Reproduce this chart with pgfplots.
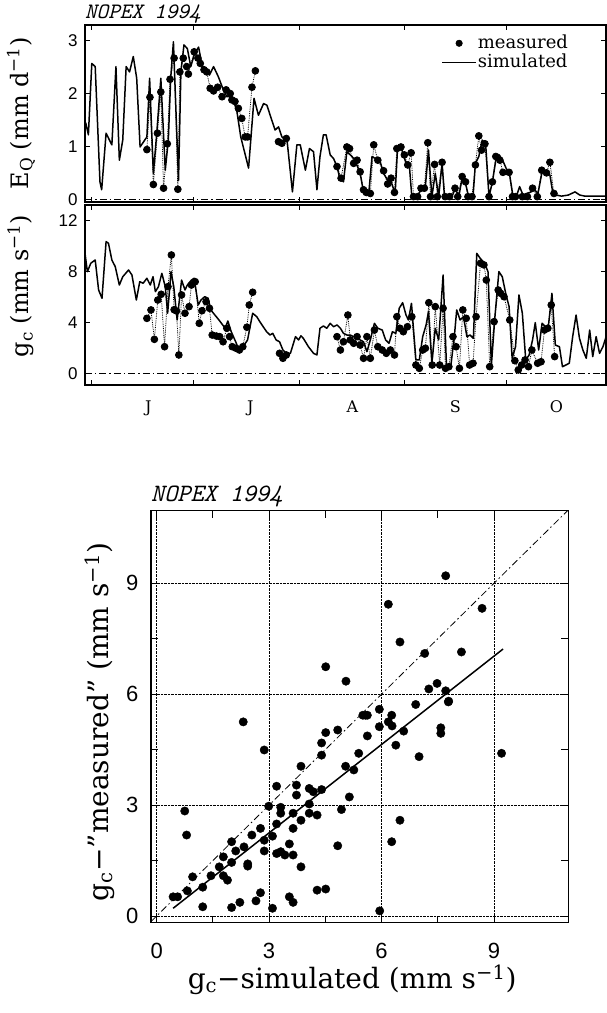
\documentclass[border=0pt]{standalone}
\usepackage{fontspec}
\setmainfont{DejaVu Serif}
\newfontfamily\tickfont{Liberation Sans}
\newfontfamily\titlefont{Latin Modern Mono}
\usepackage{pgfplots}
\pgfplotsset{compat=1.18}
\pgfplotsset{
 ts/.style={scale only axis, width=521pt, xmin=150, xmax=303.2,
  xtick={152,182,213,244,274}, xticklabels={},
  tick align=inside, xtick pos=both, ytick pos=both,
  major tick length=5pt, tick style={line width=0.9pt,black},
  axis line style={line width=1.3pt},
  yticklabel style={font=\tickfont\fontsize{17}{17}\selectfont, xshift=-4pt},
  /pgf/number format/assume math mode=true,
  unbounded coords=jump, clip mode=individual},
 sim/.style={black, line width=1.5pt, no marks, line join=round, forget plot},
 meas/.style={black, densely dotted, line width=0.8pt, mark=*, mark size=3.4pt, mark options={solid}, forget plot},
 zero/.style={black, line width=0.8pt, dash pattern=on 7pt off 3pt on 1.5pt off 3pt, no marks, forget plot},
}
\begin{document}
\begin{tikzpicture}
\path[use as bounding box] (0pt,0pt) rectangle (607pt,1013pt);
% ---------------- Top panel: E_Q ----------------
\begin{axis}[ts, at={(85pt,811pt)}, anchor=south west, height=177pt,
  ymin=-0.051, ymax=3.297, ytick={0,1,2,3},
  ylabel={E\textsubscript{Q} (mm d\textsuperscript{−1})},
  ylabel style={at={(axis description cs:-0.123,0.5)}, anchor=center, font=\fontsize{24}{24}\selectfont},
  legend style={at={(rel axis cs:0.935,0.96)}, anchor=north east, draw=none, fill=none,
    font=\fontsize{18}{18}\selectfont, row sep=1pt,
    nodes={inner sep=1pt, text height=13pt, text depth=3pt}},
  legend cell align=left]
\addlegendimage{legend image code/.code={\fill (17pt,0pt) circle (3.3pt);}}
\addlegendentry{measured}
\addlegendimage{legend image code/.code={\draw[line width=1.5pt] (0pt,0pt)--(34pt,0pt);}}
\addlegendentry{simulated}
\addplot[zero] coordinates {(150,0) (303.2,0)};
\addplot[sim] table {
150.2 1.45
151.0 1.22
152.0 2.57
153.0 2.51
154.4 0.33
154.9 0.18
156.2 1.25
157.9 1.03
159.1 2.51
160.1 0.74
161.1 1.12
162.1 2.51
163.1 2.41
164.2 2.70
165.2 2.29
166.2 0.99
168.2 1.18
169.0 2.29
170.1 0.49
171.1 1.25
172.3 2.29
173.6 0.55
174.5 1.12
175.2 2.29
176.0 2.98
177.5 0.36
178.2 2.41
179.1 2.92
180.1 2.85
181.1 2.51
182.1 2.73
183.4 2.88
184.4 2.54
185.3 2.44
186.6 2.35
187.8 2.51
189.2 2.32
190.5 2.10
191.7 1.94
193.2 1.94
194.6 1.69
195.8 1.18
198.1 0.59
199.7 1.91
201.0 1.59
202.5 1.81
203.5 1.78
204.9 1.50
205.9 1.31
206.9 1.37
207.9 1.18
209.4 1.12
211.0 0.14
212.3 1.03
213.3 1.03
214.8 0.55
216.0 0.96
217.2 0.90
218.2 0.18
219.1 0.81
220.1 1.22
220.9 1.22
222.1 0.84
223.1 0.77
224.1 0.62
224.8 0.43
226.0 0.33
227.0 0.90
228.5 0.81
229.4 0.74
230.9 0.49
231.9 0.14
233.4 0.08
234.4 0.81
235.4 0.77
236.8 0.71
237.8 0.49
239.0 0.36
240.0 0.33
241.2 0.11
241.9 0.96
243.2 0.93
244.4 0.68
245.4 0.62
246.1 0.05
247.6 0.05
248.8 0.18
250.0 0.18
251.0 0.93
252.0 0.05
253.0 0.49
254.0 0.05
255.0 0.68
255.7 0.05
257.9 0.05
258.9 0.21
259.9 0.05
260.9 0.40
261.9 0.30
262.8 0.05
264.1 0.05
264.8 0.68
265.8 0.81
266.8 1.12
267.8 1.06
268.8 0.05
269.8 0.33
270.8 0.74
271.8 0.84
272.8 0.74
273.8 0.59
274.8 0.49
275.8 0.08
276.8 0.05
277.8 0.24
278.8 0.08
279.8 0.11
281.2 0.14
282.2 0.18
283.2 0.11
284.4 0.52
285.7 0.52
286.7 0.46
287.6 0.11
288.6 0.08
290.1 0.06
292.1 0.08
294.1 0.14
295.5 0.08
297.0 0.06
299.0 0.06
303.2 0.06
};
\addplot[meas] table {
168.2 0.94
169.1 1.93
170.1 0.28
171.3 1.25
172.3 2.03
173.1 0.21
174.2 1.05
175.0 2.27
176.2 2.67
177.3 0.19
177.9 2.41
178.9 2.67
179.9 2.51
180.4 2.37
182.1 2.79
183.2 2.67
183.9 2.57
185.0 2.45
185.8 2.41
186.8 2.10
187.8 2.05
189.0 2.12
190.3 1.94
191.5 2.07
192.7 2.00
193.2 1.88
194.1 1.85
195.1 1.72
196.1 1.53
197.1 1.18
197.8 1.18
199.1 2.12
200.1 2.43
201 nan
206.9 1.09
207.9 1.06
209.2 1.15
210 nan
224.1 0.62
225.3 0.40
227.0 0.99
227.8 0.96
229.0 0.68
230.0 0.74
230.9 0.52
231.9 0.18
232.7 0.13
233.9 0.11
234.9 1.03
236.1 0.74
237.8 0.54
239.0 0.29
240.0 0.40
241.0 0.13
241.7 0.96
242.9 0.99
243.9 0.84
244.9 0.65
245.9 0.88
246.6 0.05
247.8 0.05
248.8 0.21
249.8 0.21
250.8 1.07
251.6 0.05
252.8 0.66
253.6 0.05
255.0 0.70
255.9 0.05
257.2 0.05
258.8 0.21
259.6 0.05
260.9 0.43
261.9 0.33
262.6 0.05
263.8 0.05
264.8 0.65
265.8 1.20
266.6 0.93
267.6 1.05
268.8 0.05
269.8 0.33
270.8 0.81
272.0 0.74
272.9 0.51
274.7 0.51
275.7 0.05
276.6 0.05
278.6 0.05
280.1 0.05
281.6 0.21
283.0 0.05
284.3 0.55
285.7 0.50
286.7 0.70
287.9 0.11
};
\node[anchor=base west, inner sep=0pt, font=\titlefont\itshape\fontsize{22}{22}\selectfont] at (rel axis cs:0,1) [yshift=6pt] {NOPEX 1994};
\end{axis}
% ---------------- Lower panel: g_c ----------------
\begin{axis}[ts, at={(85pt,628pt)}, anchor=south west, height=180pt,
  ymin=-0.92, ymax=13.23, ytick={0,4,8,12},
  ylabel={g\textsubscript{c} (mm s\textsuperscript{−1})},
  ylabel style={at={(axis description cs:-0.123,0.55)}, anchor=center, font=\fontsize{24}{24}\selectfont},
  extra x ticks={168.6,198.6,228.6,258.9,288.6},
  extra x tick labels={J,J,A,S,O},
  extra x tick style={major tick length=0pt, tick style={draw=none},
    xticklabel style={font=\fontsize{16}{16}\selectfont, yshift=-12pt}}]
\addplot[zero] coordinates {(150,0) (303.2,0)};
\addplot[sim] table {
150.0 9.43
150.7 7.99
151.7 8.65
153.0 8.91
154.0 6.55
155.0 5.90
156.2 10.35
156.9 10.22
157.9 8.91
158.9 8.38
160.1 6.94
161.1 7.59
162.8 8.12
163.8 7.73
165.1 5.76
166.1 7.20
167.1 7.08
168.2 7.47
169.2 6.94
170.0 7.59
170.7 6.42
171.6 6.81
172.6 7.86
173.6 6.81
174.3 4.72
175.3 7.99
176.1 6.81
177.1 4.19
178.4 7.33
179.4 6.55
180.1 6.94
181.3 7.33
182.1 7.47
183.3 5.37
184.1 5.76
185.2 6.02
186.2 5.90
187.0 4.98
188.2 4.58
189.4 4.19
191.2 3.54
192.0 4.11
193.0 3.27
194.3 2.48
195.3 1.83
196.8 2.22
197.8 2.62
199.3 4.72
200.5 4.45
201.4 4.06
202.4 3.66
203.4 3.27
204.4 3.01
205.2 3.14
206.2 2.62
207.2 2.48
208.2 1.83
209.2 1.57
210.4 1.57
211.9 2.88
212.8 2.62
213.5 2.95
214.2 2.75
215.7 2.09
217.2 1.57
218.2 1.44
219.1 3.54
220.1 3.72
221.1 3.54
222.1 3.93
223.1 3.66
224.1 3.80
225.1 3.54
226.0 3.14
227.0 3.01
228.0 3.01
229.0 2.88
230.0 2.88
230.9 2.62
231.9 2.48
232.9 1.70
233.9 2.62
235.1 3.93
236.1 3.54
237.4 3.40
238.4 2.62
239.4 2.36
240.4 3.27
241.4 3.14
242.4 5.11
243.4 5.55
244.4 4.58
245.1 4.19
246.0 5.50
247.3 1.05
248.3 1.05
249.3 2.88
250.3 3.80
251.0 4.84
252.0 0.79
253.0 3.54
254.0 2.62
255.3 7.73
256.3 0.52
257.6 0.65
258.6 2.88
259.3 4.98
260.3 4.19
261.3 4.45
262.3 2.88
263.2 3.01
264.2 2.75
265.2 9.43
266.2 9.04
267.5 8.65
268.5 7.99
269.5 0.65
270.5 4.32
271.7 7.99
272.7 7.59
273.7 6.29
274.7 5.24
275.6 1.18
276.6 2.09
277.6 6.16
278.6 4.72
279.6 1.05
280.6 1.44
281.6 2.62
282.4 3.98
283.4 1.83
284.4 3.93
285.4 3.66
286.3 3.80
287.3 6.29
288.3 2.22
289.5 2.09
290.4 0.52
291.4 0.65
292.4 0.79
293.4 2.88
294.4 4.58
295.4 2.75
296.4 1.83
297.4 1.18
298.4 3.40
299.3 1.31
300.3 2.88
301.3 1.57
302.3 2.09
303.2 2.85
};
\addplot[meas] table {
168.2 4.32
169.4 4.98
170.4 2.67
171.4 5.76
172.4 6.21
173.4 2.09
174.4 6.81
175.4 9.30
176.2 5.00
176.9 4.90
177.6 1.44
178.4 6.16
179.4 4.72
180.6 5.24
181.3 6.94
182.4 7.20
183.6 3.93
184.4 4.92
185.6 5.63
186.6 5.11
187.4 3.01
188.6 2.93
189.6 2.88
190.6 2.48
191.7 3.54
192.5 2.88
193.3 2.09
194.4 1.97
195.4 1.83
196.4 2.09
197.6 3.62
198.3 5.37
199.3 6.37
200 nan
207.2 1.57
208.2 1.18
209.2 1.44
210 nan
224.1 2.88
225.1 1.83
226.0 2.48
227.3 4.58
228.0 2.62
229.0 2.36
230.0 2.88
230.9 2.22
231.9 1.18
232.9 2.88
233.9 1.18
235.1 3.40
236.1 2.09
237.4 1.83
238.6 1.57
239.8 1.83
241.0 1.44
241.7 4.45
242.6 3.54
243.6 3.27
244.8 3.66
246.1 4.45
247.3 0.65
248.3 0.39
249.3 1.83
250.1 1.97
251.1 5.55
252.1 0.65
253.0 5.24
254.3 0.65
255.3 5.11
256.0 0.39
257.0 0.52
258.2 2.88
259.1 2.09
260.1 0.39
261.1 4.98
262.1 4.32
263.1 0.65
264.1 0.79
265.0 4.45
266.3 8.65
267.3 8.52
268.0 7.33
269.0 0.52
270.3 4.06
271.5 6.55
272.2 6.29
273.2 6.02
274.9 4.19
276.4 0.99
277.4 0.26
278.4 0.65
279.4 1.05
280.4 0.52
281.4 1.83
283.1 0.79
284.1 0.91
285.1 3.40
286.1 3.54
287.1 5.37
288.1 1.31
};
\end{axis}
% ---------------- Scatter ----------------
\begin{axis}[scale only axis, at={(151pt,90.3pt)}, anchor=south west,
  width=417.3pt, height=412pt, clip mode=individual,
  xmin=-0.15, xmax=10.98, ymin=-0.18, ymax=10.96,
  xtick={0,3,6,9}, ytick={0,3,6,9}, minor tick num=1,
  grid=major, major grid style={densely dotted, line width=0.8pt, black},
  tick align=inside, xtick pos=both, ytick pos=both,
  major tick length=7pt, minor tick length=7pt,
  tick style={line width=0.9pt, black},
  axis line style={line width=1.3pt},
  /pgf/number format/assume math mode=true,
  ticklabel style={font=\tickfont\fontsize{22}{22}\selectfont},
  yticklabel style={xshift=-9pt},
  xticklabel style={yshift=-17pt},
  xlabel={g\textsubscript{c}−simulated (mm s\textsuperscript{−1})},
  ylabel={g\textsubscript{c}−''measured'' (mm s\textsuperscript{−1})},
  xlabel style={at={(axis description cs:0.482,-0.139)}, anchor=center, font=\fontsize{28}{28}\selectfont},
  ylabel style={at={(axis description cs:-0.122,0.487)}, anchor=center, font=\fontsize{28}{28}\selectfont}]
\addplot[black, line width=0.8pt, dash pattern=on 7pt off 3pt on 1.5pt off 3pt, no marks] coordinates {(-0.15,-0.15) (10.98,10.98)};
\addplot[black, line width=1.5pt, no marks] coordinates {(0.44,0.21) (9.24,7.22)};
\addplot[only marks, mark=*, mark size=4.2pt, black] table {
2.31 5.25
2.87 4.49
0.75 2.84
0.80 2.19
3.20 3.51
2.99 2.97
3.31 2.94
3.31 2.78
3.20 2.49
3.09 2.16
2.77 2.37
2.87 2.05
2.87 1.76
2.54 2.19
2.33 1.87
2.11 1.76
2.00 2.01
2.00 1.45
1.78 1.60
1.67 1.33
1.78 1.09
1.89 0.97
1.45 1.09
0.96 1.06
1.23 0.78
0.82 0.68
0.44 0.52
0.56 0.52
1.23 0.25
2.00 0.23
2.22 0.37
2.43 1.41
2.43 1.35
2.65 0.41
2.77 0.63
3.09 0.21
3.31 1.74
3.20 1.69
3.42 1.65
3.64 1.65
3.54 1.95
3.85 1.33
3.54 0.52
3.64 0.37
3.64 2.37
3.85 2.59
3.64 2.78
3.73 3.27
3.73 3.54
3.85 4.05
4.07 3.03
4.07 2.78
4.28 2.73
4.07 3.45
4.18 3.36
4.40 3.42
4.28 0.70
4.51 0.73
4.40 4.35
4.40 4.68
4.51 4.96
4.83 5.03
4.83 1.90
5.04 4.05
4.93 2.88
5.14 3.22
5.62 5.43
5.50 5.43
5.57 5.43
5.94 5.59
5.94 5.12
5.62 4.87
6.27 5.43
6.18 5.25
6.28 5.14
6.59 5.00
6.38 4.62
6.91 5.72
7.78 5.79
7.58 5.09
7.58 4.94
7.00 4.31
9.20 4.40
5.39 4.40
5.26 3.95
6.49 2.59
6.27 2.01
5.95 0.14
7.71 9.20
6.18 8.43
8.68 8.32
6.49 7.41
7.15 7.10
8.13 7.14
5.05 6.35
7.26 6.14
7.48 6.29
7.71 6.09
7.79 5.81
4.51 6.74
};
\node[anchor=base west, inner sep=0pt, font=\titlefont\itshape\fontsize{25}{25}\selectfont] at (rel axis cs:0,1) [yshift=9pt] {NOPEX 1994};
\end{axis}
\end{tikzpicture}
\end{document}
